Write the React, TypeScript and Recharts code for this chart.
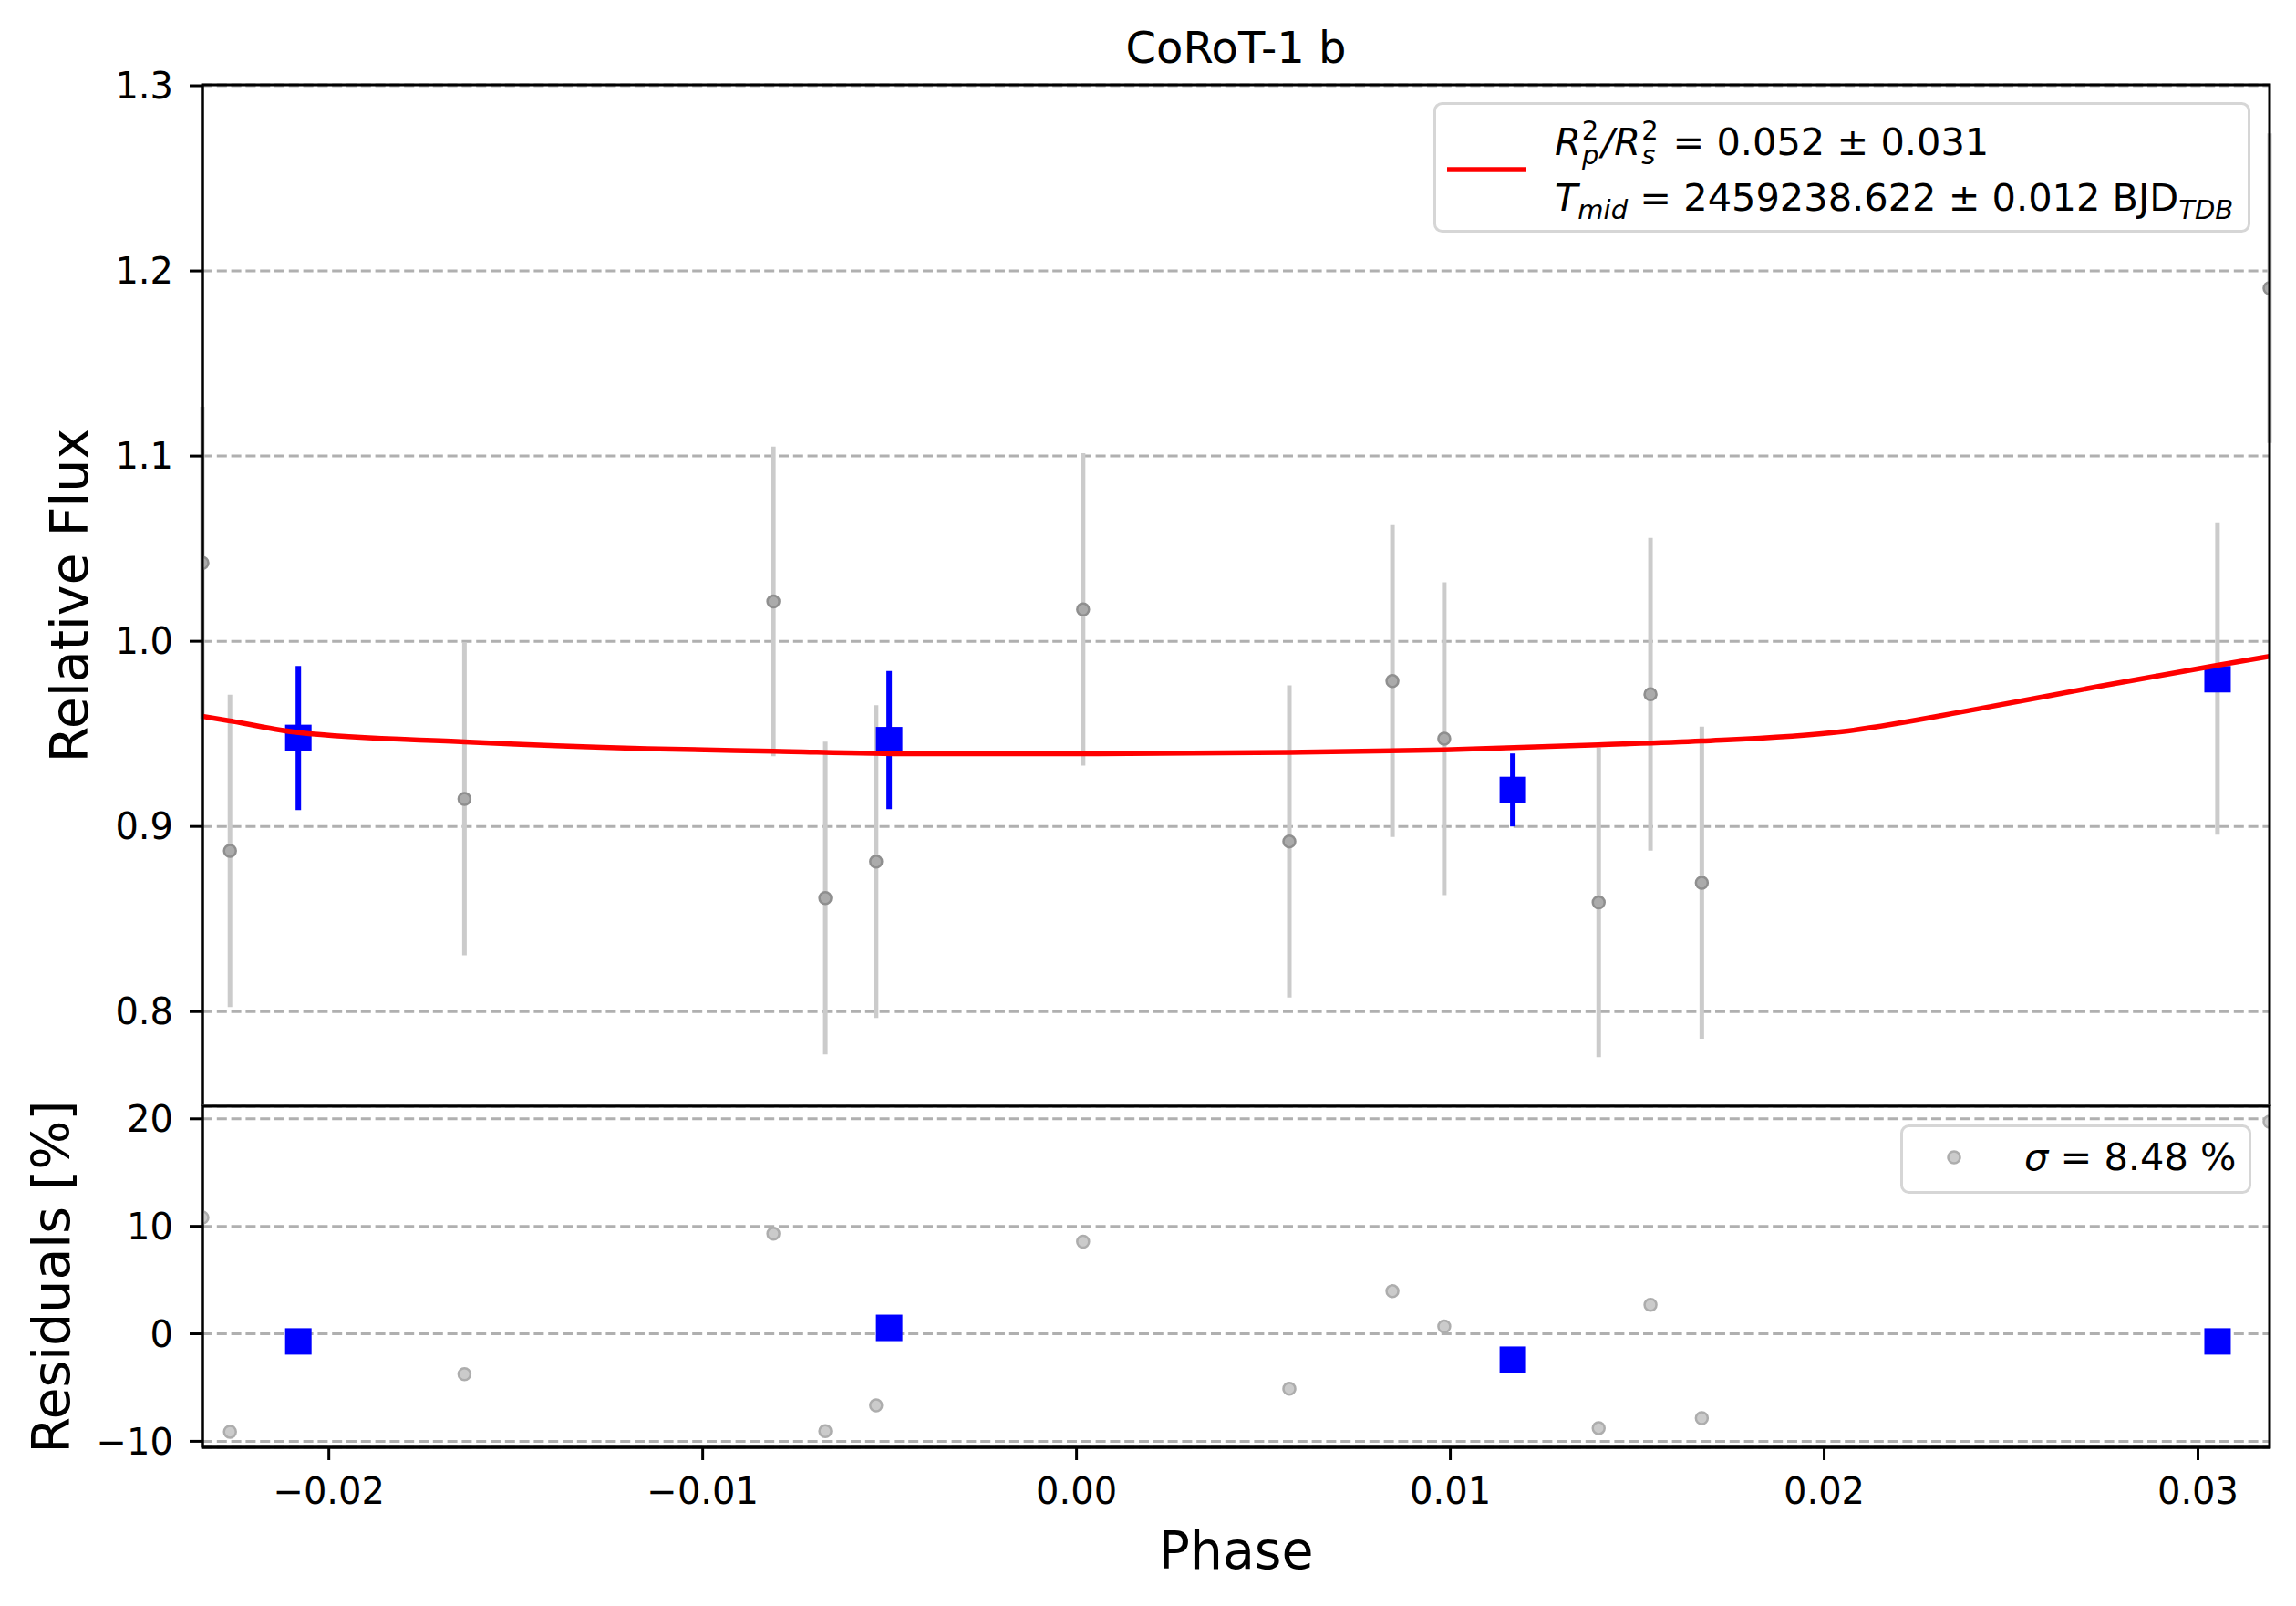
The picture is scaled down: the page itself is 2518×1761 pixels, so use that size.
import React from 'react';
import {
  ComposedChart, Scatter, Line, XAxis, YAxis, CartesianGrid, ErrorBar, ReferenceArea, Legend,
} from 'recharts';

// ---------- data ----------
const phaseRaw = [-0.023383, -0.022646, -0.016373, -0.00811, -0.00672, -0.005361, 0.000176, 0.005693, 0.008451, 0.009837, 0.013968, 0.015354, 0.016727, 0.030522, 0.031915];
const fluxRaw = [1.0423, 0.8868, 0.9149, 1.0215, 0.8613, 0.881, 1.0172, 0.8919, 0.9785, 0.9474, 0.859, 0.9714, 0.8696, 0.9799, 1.1907];
const fluxErrRaw = [0.0843, 0.0844, 0.0845, 0.0836, 0.0845, 0.0845, 0.0843, 0.0843, 0.0842, 0.0845, 0.0836, 0.0845, 0.0843, 0.0843, 0.0836];
const residRaw = [10.81, -9.11, -3.75, 9.32, -9.05, -6.66, 8.57, -5.11, 3.96, 0.68, -8.77, 2.7, -7.84, -0.72, 19.72];

const phaseBin = [-0.020817, -0.005012, 0.011671, 0.030524];
const fluxBin = [0.9478, 0.9466, 0.9197, 0.9795];
const fluxErrBin = [0.0389, 0.0373, 0.0197, 0];
const residBin = [-0.71, 0.55, -2.41, -0.71];

const phaseModel = [-0.023383, -0.022646, -0.020817, -0.016373, -0.011476, -0.00811, -0.0044, 0.000176, 0.0057, 0.00984, 0.01396, 0.01672, 0.02047, 0.02404, 0.0274, 0.03052, 0.031915];
const fluxModel = [0.9594, 0.957, 0.9507, 0.9457, 0.942, 0.9406, 0.9392, 0.9392, 0.94, 0.9414, 0.9441, 0.9461, 0.9512, 0.9632, 0.9758, 0.987, 0.9918];

const xTicks = [-0.02, -0.01, 0.0, 0.01, 0.02, 0.03];
const fluxTicks = [0.8, 0.9, 1.0, 1.1, 1.2, 1.3];
const residTicks = [-10, 0, 10, 20];

const X_DOMAIN: [number, number] = [-0.023383, 0.031915];
const FLUX_DOMAIN: [number, number] = [0.7489, 1.3005];
const RESID_DOMAIN: [number, number] = [-10.56, 21.17];

const rawData = phaseRaw.map((x, i) => ({ x, y: fluxRaw[i], err: fluxErrRaw[i] }));
const binData = phaseBin.map((x, i) => ({ x, y: fluxBin[i], err: fluxErrBin[i] }));
const modelData = phaseModel.map((x, i) => ({ x, y: fluxModel[i] }));
const resRawData = phaseRaw.map((x, i) => ({ x, y: residRaw[i] }));
const resBinData = phaseBin.map((x, i) => ({ x, y: residBin[i] }));

// ---------- styling ----------
const FONT = 'DejaVu Sans';
const TICK_STYLE = { fontSize: 40, fill: '#000', fontFamily: FONT };
const AXIS_LINE = { stroke: '#000', strokeWidth: 3 };
const W = 2518;
const M_RIGHT = 29;
const Y_W = 222;
const LF = 41.5; // legend font
const LS = 29; // legend sub/sup font
const BOTTOM_TOP = 1113; // top of the residual chart's svg
const BOTTOM_PAD = 100; // margin above the residual plot area

const minus = (s: string) => s.replace('-', '\u2212');

const grayDot = (p: any) => (
  <circle cx={p.cx} cy={p.cy} r={6.5} fill="#ababab" stroke="#8f8f8f" strokeWidth={2.5} />
);
const lightDot = (p: any) => (
  <circle cx={p.cx} cy={p.cy} r={6.5} fill="#cbcbcb" stroke="#adadad" strokeWidth={2.5} />
);
const blueSquare = (p: any) => (
  <rect x={p.cx - 14.5} y={p.cy - 14.5} width={29} height={29} fill="#0000ff" />
);

const TopLegend = () => (
  <svg width={896} height={143} style={{ display: 'block' }}>
    <rect x={1.5} y={1.5} width={893} height={140} rx={8} ry={8} fill="#fff" stroke="#d6d6d6" strokeWidth={3} />
    <line x1={15} x2={102} y1={74} y2={74} stroke="#ff0000" strokeWidth={5.5} />
    <text x={133} y={58} fontSize={LF} fontFamily={FONT} fill="#000">
      <tspan fontStyle="italic">R</tspan>
      <tspan fontSize={LS} dx={1} dy={-17}>2</tspan>
      <tspan fontSize={LS} dx={-18.4} dy={27} fontStyle="italic">p</tspan>
      <tspan dx={3} dy={-10} fontStyle="italic">/R</tspan>
      <tspan fontSize={LS} dx={1} dy={-17}>2</tspan>
      <tspan fontSize={LS} dx={-18.4} dy={27} fontStyle="italic">s</tspan>
      <tspan dx={6} dy={-10}>{' = 0.052 \u00b1 0.031'}</tspan>
    </text>
    <text x={133} y={119} fontSize={LF} fontFamily={FONT} fill="#000">
      <tspan fontStyle="italic">T</tspan>
      <tspan fontSize={LS} dy={9} fontStyle="italic">mid</tspan>
      <tspan dy={-9}>{' = 2459238.622 \u00b1 0.012 BJD'}</tspan>
      <tspan fontSize={LS} dy={9} fontStyle="italic">TDB</tspan>
    </text>
  </svg>
);

const BottomLegend = () => (
  <svg width={385} height={76} style={{ display: 'block' }}>
    <rect x={1.5} y={1.5} width={382} height={73} rx={8} ry={8} fill="#fff" stroke="#d6d6d6" strokeWidth={3} />
    <circle cx={59} cy={36} r={6.5} fill="#cbcbcb" stroke="#adadad" strokeWidth={2.5} />
    <text x={136} y={50} fontSize={LF} fontFamily={FONT} fill="#000">
      <tspan fontStyle="italic">{'\u03c3'}</tspan>
      <tspan>{' = 8.48 %'}</tspan>
    </text>
  </svg>
);

const yLabel = (text: string, baselineX: number) => (props: any) => {
  const vb = props.viewBox || { x: 0, y: 0, width: 0, height: 0 };
  const X = vb.x + baselineX;
  const Y = vb.y + vb.height / 2;
  return (
    <g transform={`translate(${X} ${Y}) rotate(-90)`}>
      <text x={0} y={0} textAnchor="middle" fontSize={57} fontFamily={FONT} fill="#000">
        {text}
      </text>
    </g>
  );
};

const xLabel = (props: any) => {
  const vb = props.viewBox || { x: 0, y: 0, width: 0, height: 0 };
  return (
    <text x={vb.x + vb.width / 2} y={vb.y + 133} textAnchor="middle" fontSize={57} fontFamily={FONT} fill="#000">
      Phase
    </text>
  );
};

const gridProps = {
  horizontal: true,
  vertical: false,
  stroke: '#b0b0b0',
  strokeWidth: 3,
  strokeDasharray: '11 4.8',
};

export default function App() {
  return (
    <div style={{ position: 'absolute', left: 0, top: 0, width: W, height: 1761, background: '#fff', fontFamily: FONT, overflow: 'hidden' }}>
      <svg width={W} height={100} style={{ position: 'absolute', left: 0, top: 0 }}>
        <text x={1355.5} y={69} textAnchor="middle" fontSize={48} fontFamily={FONT} fill="#000">CoRoT-1 b</text>
      </svg>

      <div style={{ position: 'absolute', left: 0, top: 0 }}>
        <ComposedChart width={W} height={1213} margin={{ top: 93, right: M_RIGHT, bottom: 0, left: 0 }}>
          <CartesianGrid {...gridProps} />
          <XAxis type="number" dataKey="x" domain={X_DOMAIN} allowDataOverflow ticks={xTicks} hide />
          <YAxis
            type="number"
            dataKey="y"
            domain={FLUX_DOMAIN}
            allowDataOverflow
            ticks={fluxTicks}
            interval={0}
            tickFormatter={(v: number) => v.toFixed(1)}
            width={Y_W}
            tickSize={14}
            tickMargin={18}
            tick={TICK_STYLE}
            axisLine={AXIS_LINE}
            tickLine={AXIS_LINE}
            label={yLabel('Relative Flux', 96)}
          />
          <Scatter data={rawData} fill="#ababab" shape={grayDot} isAnimationActive={false} legendType="none">
            <ErrorBar dataKey="err" direction="y" width={0} stroke="#cbcbcb" strokeWidth={5} />
          </Scatter>
          <Scatter data={binData} fill="#0000ff" shape={blueSquare} isAnimationActive={false} legendType="none">
            <ErrorBar dataKey="err" direction="y" width={0} stroke="#0000ff" strokeWidth={6} />
          </Scatter>
          <Line
            data={modelData}
            dataKey="y"
            type="monotone"
            stroke="#ff0000"
            strokeWidth={5.5}
            dot={false}
            activeDot={false}
            isAnimationActive={false}
            zIndex={650}
          />
          <ReferenceArea
            x1={X_DOMAIN[0]}
            x2={X_DOMAIN[1]}
            y1={FLUX_DOMAIN[0]}
            y2={FLUX_DOMAIN[1]}
            fill="none"
            fillOpacity={0}
            stroke="#000"
            strokeWidth={3}
            zIndex={700}
          />
          <Legend
            layout="vertical"
            align="center"
            verticalAlign="middle"
            content={() => <TopLegend />}
            wrapperStyle={{ left: 1572, top: 112, width: 896, height: 143, margin: 0, padding: 0 }}
          />
        </ComposedChart>
      </div>

      <div style={{ position: 'absolute', left: 0, top: BOTTOM_TOP }}>
        <ComposedChart width={W} height={1761 - BOTTOM_TOP} margin={{ top: BOTTOM_PAD, right: M_RIGHT, bottom: 0, left: 0 }}>
          <CartesianGrid {...gridProps} />
          <XAxis
            type="number"
            dataKey="x"
            domain={X_DOMAIN}
            allowDataOverflow
            ticks={xTicks}
            interval={0}
            tickFormatter={(v: number) => minus(v.toFixed(2))}
            height={174}
            tickSize={14}
            tickMargin={20}
            tick={TICK_STYLE}
            axisLine={AXIS_LINE}
            tickLine={AXIS_LINE}
            label={xLabel}
          />
          <YAxis
            type="number"
            dataKey="y"
            domain={RESID_DOMAIN}
            allowDataOverflow
            ticks={residTicks}
            interval={0}
            tickFormatter={(v: number) => minus(String(v))}
            width={Y_W}
            tickSize={14}
            tickMargin={18}
            tick={TICK_STYLE}
            axisLine={AXIS_LINE}
            tickLine={AXIS_LINE}
            label={yLabel('Residuals [%]', 76)}
          />
          <Scatter data={resRawData} fill="#cbcbcb" shape={lightDot} isAnimationActive={false} legendType="none" />
          <Scatter data={resBinData} fill="#0000ff" shape={blueSquare} isAnimationActive={false} legendType="none" />
          <ReferenceArea
            x1={X_DOMAIN[0]}
            x2={X_DOMAIN[1]}
            y1={RESID_DOMAIN[0]}
            y2={RESID_DOMAIN[1]}
            fill="none"
            fillOpacity={0}
            stroke="#000"
            strokeWidth={3}
            zIndex={700}
          />
          <Legend
            layout="vertical"
            align="center"
            verticalAlign="middle"
            content={() => <BottomLegend />}
            wrapperStyle={{ left: 2084, top: 1233 - BOTTOM_TOP, width: 385, height: 76, margin: 0, padding: 0 }}
          />
        </ComposedChart>
      </div>
    </div>
  );
}
